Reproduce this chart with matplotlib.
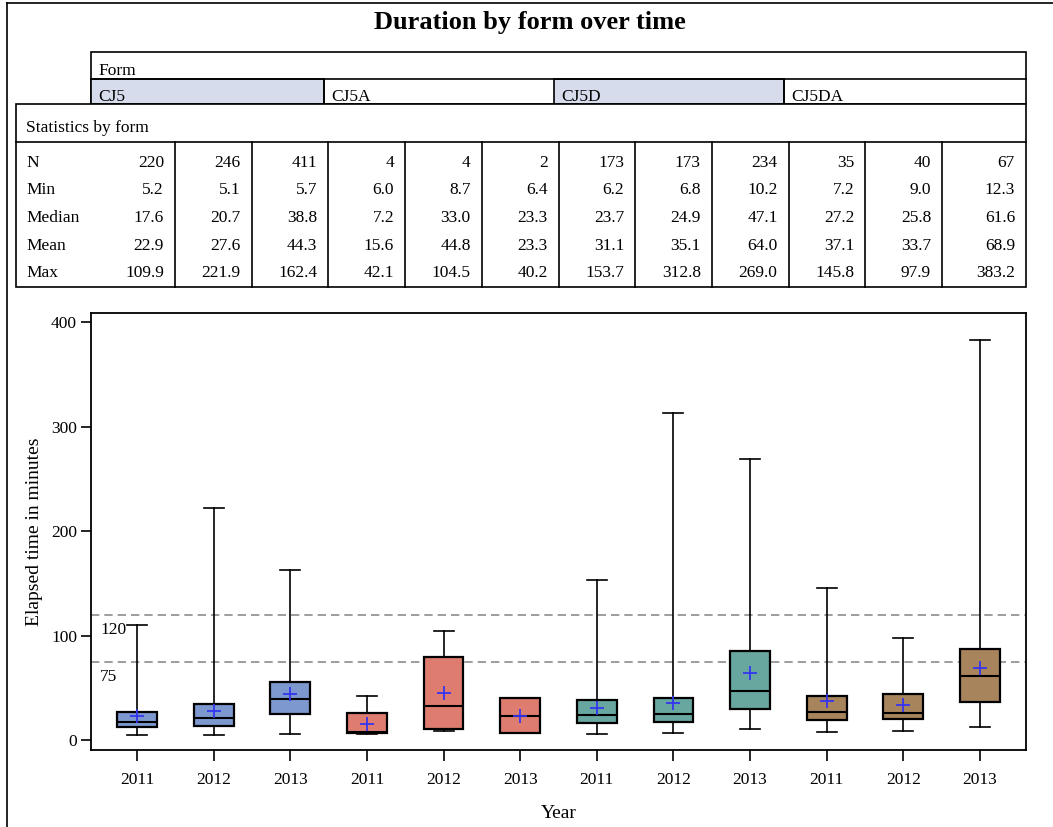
import matplotlib.pyplot as plt
from matplotlib.patches import Rectangle

# ---- data ----
forms = ["CJ5", "CJ5A", "CJ5D", "CJ5DA"]
years = ["2011", "2012", "2013"]
stat_names = ["N", "Min", "Median", "Mean", "Max"]

n_obs = [220, 246, 411, 4, 4, 2, 173, 173, 234, 35, 40, 67]
mins = [5.2, 5.1, 5.7, 6.0, 8.7, 6.4, 6.2, 6.8, 10.2, 7.2, 9.0, 12.3]
medians = [17.6, 20.7, 38.8, 7.2, 33.0, 23.3, 23.7, 24.9, 47.1, 27.2, 25.8, 61.6]
means = [22.9, 27.6, 44.3, 15.6, 44.8, 23.3, 31.1, 35.1, 64.0, 37.1, 33.7, 68.9]
maxs = [109.9, 221.9, 162.4, 42.1, 104.5, 40.2, 153.7, 312.8, 269.0, 145.8, 97.9, 383.2]
# quartiles estimated from the box edges
q1s = [12.5, 13.7, 25.2, 6.9, 10.2, 6.4, 16.3, 17.6, 29.4, 18.9, 20.0, 36.1]
q3s = [26.8, 34.8, 55.6, 25.6, 79.6, 40.2, 38.6, 40.3, 85.0, 42.5, 44.0, 87.5]

ref_lines = [120, 75]

form_colors = ["#7C98CF", "#DE7D6F", "#67A7A0", "#A7845B"]
header_fill = "#D6DCEC"

plt.rcParams["font.family"] = ["Liberation Serif", "DejaVu Serif"]

W, H = 1053, 827
fig = plt.figure(figsize=(W / 100, H / 100), dpi=100)

# overlay axes in pixel coordinates for the title, tables and border
bg = fig.add_axes([0, 0, 1, 1])
bg.set_xlim(0, W)
bg.set_ylim(H, 0)
bg.axis("off")

lw = 1.2
fs = 12.5
bg.plot([7, 7], [3, H], color="black", lw=lw)
bg.plot([7, W], [3, 3], color="black", lw=lw)

bg.text(530, 23, "Duration by form over time", ha="center", va="center",
        fontsize=19, fontweight="bold")

# form header table
form_edges = [91, 324, 554, 784, 1026]
bg.add_patch(Rectangle((91, 52), 1026 - 91, 52, fill=False, lw=lw, ec="black"))
bg.plot([91, 1026], [79, 79], color="black", lw=lw)
bg.text(98, 71, "Form", fontsize=fs, va="center")
for i, f in enumerate(forms):
    x0, x1 = form_edges[i], form_edges[i + 1]
    if i % 2 == 0:
        bg.add_patch(Rectangle((x0, 79), x1 - x0, 25, fc=header_fill, ec="black", lw=lw))
    else:
        bg.plot([x0, x0], [79, 104], color="black", lw=lw)
    bg.text(x0 + 7, 97, f, fontsize=fs, va="center")

# statistics table: first column holds the row label and the first value
col_edges = [16] + [175 + 76.7 * i for i in range(11)] + [1026]
bg.add_patch(Rectangle((16, 104), 1026 - 16, 287 - 104, fc="white", ec="black", lw=lw, zorder=2))
bg.plot([16, 1026], [142, 142], color="black", lw=lw, zorder=3)
bg.text(26, 128, "Statistics by form", fontsize=fs, va="center", zorder=3)
for x in col_edges[1:-1]:
    bg.plot([x, x], [142, 287], color="black", lw=lw, zorder=3)

rows = [n_obs, mins, medians, means, maxs]
row_y = [163, 190.5, 218, 245.5, 273]
for name, vals, y in zip(stat_names, rows, row_y):
    bg.text(26, y, name, fontsize=fs, va="center", zorder=3)
    for j, v in enumerate(vals):
        txt = f"{v:d}" if name == "N" else f"{v:.1f}"
        bg.text(col_edges[j + 1] - 11, y, txt, fontsize=fs, va="center", ha="right", zorder=3)

# box plot
ax = fig.add_axes([91 / W, (H - 750) / H, 935 / W, 437 / H])
stats = []
for i in range(len(n_obs)):
    stats.append(dict(med=medians[i], q1=q1s[i], q3=q3s[i],
                      whislo=mins[i], whishi=maxs[i], mean=means[i]))

positions = list(range(len(stats)))
bp = ax.bxp(stats, positions=positions, widths=0.52, patch_artist=True,
            showmeans=True, showfliers=False,
            boxprops=dict(linewidth=1.6, edgecolor="black"),
            medianprops=dict(color="black", linewidth=1.5),
            whiskerprops=dict(color="black", linewidth=1.2),
            capprops=dict(color="black", linewidth=1.2),
            meanprops=dict(marker="+", markeredgecolor="#3535F0",
                           markersize=10, markeredgewidth=1.3))
for i, box in enumerate(bp["boxes"]):
    box.set_facecolor(form_colors[i // len(years)])

for v in ref_lines:
    ax.axhline(v, color="#8C8C8C", ls=(0, (5, 3)), lw=1.2, zorder=0)
    ax.annotate(str(v), xy=(0.01, v), xycoords=ax.get_yaxis_transform(),
                xytext=(0, -5), textcoords="offset points",
                va="top", ha="left", fontsize=fs)

ax.set_xlim(-0.6, len(stats) - 0.4)
ax.set_ylim(-9.6, 409)
ax.set_yticks([0, 100, 200, 300, 400])
ax.set_xticks(positions)
ax.set_xticklabels(years * len(forms))
ax.tick_params(axis="both", direction="out", length=7, width=1.2, labelsize=12.5, pad=3)
ax.tick_params(axis="x", length=8, pad=8)
for s in ax.spines.values():
    s.set_linewidth(1.3)
ax.set_xlabel("Year", fontsize=14, labelpad=12)
ax.set_ylabel("Elapsed time in minutes", fontsize=14, labelpad=6)

fig.savefig("out.png", dpi=100)
